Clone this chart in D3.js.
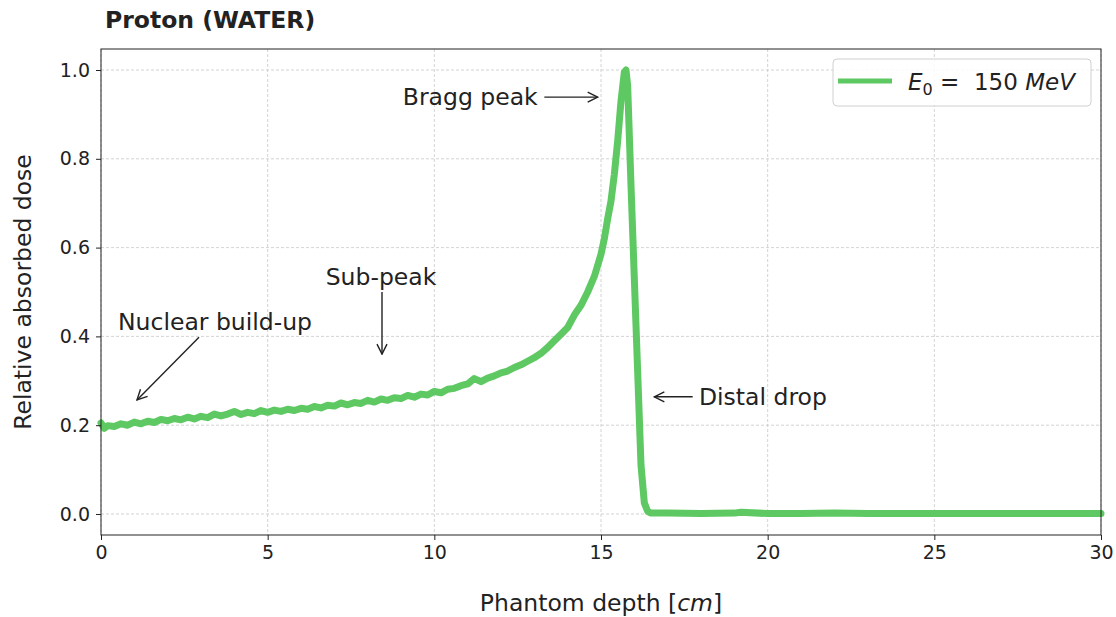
<!DOCTYPE html>
<html>
<meta charset="utf-8">
<style>
body { margin: 0; background: #fff; }
text { font-family: "DejaVu Sans", sans-serif; fill: #222; }
.grid line { stroke: #c8c8c8; stroke-dasharray: 3,2; stroke-width: 0.8; }
</style>
<head>
<script src="https://d3js.org/d3.v7.min.js"></script>
</head>
<body>
<script>
// depth in cm
var depth = [0.0, 0.1, 0.2, 0.4, 0.6, 0.8, 1.0, 1.2, 1.4, 1.6, 1.8, 2.0, 2.2, 2.4, 2.6, 2.8,
  3.0, 3.2, 3.4, 3.6, 3.8, 4.0, 4.2, 4.4, 4.6, 4.8, 5.0, 5.2, 5.4, 5.6, 5.8,
  6.0, 6.2, 6.4, 6.6, 6.8, 7.0, 7.2, 7.4, 7.6, 7.8, 8.0, 8.2, 8.4, 8.6, 8.8,
  9.0, 9.2, 9.4, 9.6, 9.8, 10.0, 10.2, 10.4, 10.6, 10.8, 11.0, 11.2, 11.4, 11.6, 11.8,
  12.0, 12.2, 12.4, 12.6, 12.8, 13.0, 13.2, 13.4, 13.6, 13.8, 14.0, 14.2, 14.4, 14.6, 14.8,
  15.0, 15.1, 15.2, 15.3, 15.4, 15.5, 15.6, 15.7, 15.75, 15.8, 15.9, 16.0, 16.1, 16.2, 16.3,
  16.4, 16.5, 17, 18, 19, 19.2, 20, 21, 22, 23, 24, 25, 26, 27, 28, 29, 30];

// relative dose
var dose = [0.205, 0.193, 0.199, 0.197, 0.203, 0.200, 0.207, 0.203, 0.209, 0.206, 0.213, 0.210, 0.215, 0.212, 0.218, 0.214,
  0.220, 0.217, 0.225, 0.221, 0.225, 0.231, 0.224, 0.229, 0.226, 0.233, 0.229, 0.234, 0.231, 0.236, 0.233,
  0.238, 0.236, 0.242, 0.239, 0.245, 0.243, 0.250, 0.246, 0.251, 0.249, 0.256, 0.252, 0.259, 0.256, 0.262,
  0.260, 0.267, 0.263, 0.270, 0.268, 0.276, 0.273, 0.281, 0.283, 0.289, 0.293, 0.305, 0.298, 0.306, 0.311,
  0.318, 0.322, 0.330, 0.336, 0.344, 0.352, 0.362, 0.375, 0.390, 0.405, 0.420, 0.448, 0.470, 0.500, 0.535,
  0.585, 0.620, 0.665, 0.705, 0.765, 0.840, 0.930, 0.995, 1.0, 0.965, 0.74, 0.53, 0.32, 0.11, 0.025,
  0.006, 0.002, 0.002, 0.001, 0.002, 0.004, 0.001, 0.001, 0.002, 0.001, 0.001, 0.001, 0.001, 0.001, 0.001, 0.001, 0.001];

var xTicks = [0, 5, 10, 15, 20, 25, 30];
var yTicks = [0.0, 0.2, 0.4, 0.6, 0.8, 1.0];

// annotations: text, text position, arrow start, arrow tip (data coords)
var notes = [
  {label: "Bragg peak", tx: 13.1, ty: 0.939, anchor: "end", x1: 13.3, y1: 0.939, x2: 14.9, y2: 0.939},
  {label: "Sub-peak", tx: 8.4, ty: 0.534, anchor: "middle", x1: 8.43, y1: 0.50, x2: 8.43, y2: 0.36},
  {label: "Nuclear build-up", tx: 3.42, ty: 0.432, anchor: "middle", x1: 2.94, y1: 0.398, x2: 1.08, y2: 0.257},
  {label: "Distal drop", tx: 17.94, ty: 0.264, anchor: "start", x1: 17.75, y1: 0.264, x2: 16.6, y2: 0.264}
];

var W = 1116, H = 617;
var plotL = 101, plotR = 1101, plotT = 49, plotB = 535;

var svg = d3.select("body").append("svg")
  .attr("width", W).attr("height", H);

var x = d3.scaleLinear().domain([0, 30]).range([plotL, plotR]);
var y = d3.scaleLinear().domain([-0.0473, 1.0473]).range([plotB, plotT]);

// grid
var grid = svg.append("g").attr("class", "grid");
grid.selectAll(".gx").data(xTicks).enter().append("line")
  .attr("x1", d => x(d)).attr("x2", d => x(d))
  .attr("y1", plotT).attr("y2", plotB);
grid.selectAll(".gy").data(yTicks).enter().append("line")
  .attr("x1", plotL).attr("x2", plotR)
  .attr("y1", d => y(d)).attr("y2", d => y(d));

// curve
var line = d3.line()
  .x((d, i) => x(depth[i]))
  .y(d => y(d));

svg.append("path")
  .datum(dose)
  .attr("d", line)
  .attr("fill", "none")
  .attr("stroke", "#5ec962")
  .attr("stroke-width", 7)
  .attr("stroke-linejoin", "round")
  .attr("stroke-linecap", "round");

// axes
var xAxis = svg.append("g")
  .attr("transform", "translate(0," + plotB + ")")
  .call(d3.axisBottom(x).tickValues(xTicks).tickFormat(d3.format("d")).tickSize(5).tickPadding(6));
var yAxis = svg.append("g")
  .attr("transform", "translate(" + plotL + ",0)")
  .call(d3.axisLeft(y).tickValues(yTicks).tickFormat(d3.format(".1f")).tickSize(5).tickPadding(6));

[xAxis, yAxis].forEach(function(a) {
  a.attr("font-size", null).attr("font-family", null);
  a.select(".domain").remove();
  a.selectAll("text").style("font-size", "19px").attr("fill", "#222");
  a.selectAll("line").attr("stroke", "#222");
});

svg.append("rect")
  .attr("x", plotL).attr("y", plotT)
  .attr("width", plotR - plotL).attr("height", plotB - plotT)
  .attr("fill", "none").attr("stroke", "#222").attr("stroke-width", 1);

// labels
var xl = svg.append("text")
  .attr("x", (plotL + plotR) / 2).attr("y", 611)
  .attr("text-anchor", "middle").style("font-size", "23.5px");
xl.append("tspan").text("Phantom depth [");
xl.append("tspan").style("font-style", "italic").text("cm");
xl.append("tspan").text("]");

svg.append("text")
  .attr("transform", "translate(31," + ((plotT + plotB) / 2) + ") rotate(-90)")
  .attr("text-anchor", "middle").style("font-size", "23.5px")
  .text("Relative absorbed dose");

svg.append("text")
  .attr("x", 105).attr("y", 28)
  .style("font-size", "23.5px").style("font-weight", "bold").attr("fill", "#111")
  .text("Proton (WATER)");

// arrows
var defs = svg.append("defs");
defs.append("marker")
  .attr("id", "head").attr("viewBox", "0 0 12 12")
  .attr("refX", 11).attr("refY", 6)
  .attr("markerWidth", 12).attr("markerHeight", 12)
  .attr("markerUnits", "userSpaceOnUse")
  .attr("orient", "auto")
  .append("path").attr("d", "M1,1 L11,6 L1,11")
  .attr("fill", "none").attr("stroke", "#222").attr("stroke-width", 1.4);

notes.forEach(function(n) {
  svg.append("line")
    .attr("x1", x(n.x1)).attr("y1", y(n.y1))
    .attr("x2", x(n.x2)).attr("y2", y(n.y2))
    .attr("stroke", "#222").attr("stroke-width", 1.4)
    .attr("marker-end", "url(#head)");
  svg.append("text")
    .attr("x", x(n.tx)).attr("y", y(n.ty))
    .attr("dy", "0.35em")
    .attr("text-anchor", n.anchor)
    .style("font-size", "23.5px")
    .text(n.label);
});

// legend
var lg = svg.append("g");
lg.append("rect")
  .attr("x", 833).attr("y", 59).attr("width", 258).attr("height", 47)
  .attr("rx", 4).attr("fill", "#fff").attr("fill-opacity", 0.85)
  .attr("stroke", "#d0d0d0");
lg.append("line")
  .attr("x1", 838).attr("x2", 892).attr("y1", 81).attr("y2", 81)
  .attr("stroke", "#5ec962").attr("stroke-width", 5);
var lt = lg.append("text").attr("x", 908).attr("y", 90).style("font-size", "23px");
lt.append("tspan").style("font-style", "italic").text("E");
lt.append("tspan").attr("dy", 5).style("font-size", "16px").text("0");
lt.append("tspan").attr("dy", -5).text("\u00a0=\u00a0\u00a0150\u00a0");
lt.append("tspan").style("font-style", "italic").text("MeV");
</script>
</body>
</html>
